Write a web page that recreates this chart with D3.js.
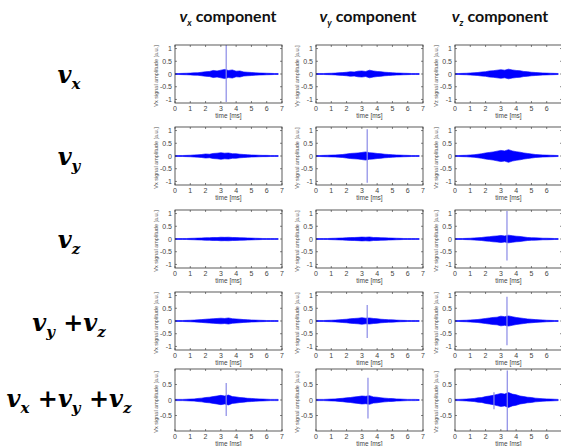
<!DOCTYPE html>
<html>
<head>
<meta charset="utf-8">
<script src="https://cdn.jsdelivr.net/npm/d3@7"></script>
<style>
  body { margin: 0; background: #fff; }
  svg { display: block; }
</style>
</head>
<body>
<div id="chart"></div>
<script>
// sample times (ms) of the envelope readings
const times = [0, 0.25, 0.5, 0.75, 1, 1.25, 1.5, 1.75, 2, 2.25, 2.5, 2.75, 3, 3.25, 3.5,
  3.75, 4, 4.25, 4.5, 4.75, 5, 5.25, 5.5, 5.75, 6, 6.25, 6.5, 6.75];

// envelope (half height) of the noisy signal, row by row
const envVxVx = [0.02, 0.02, 0.025, 0.03, 0.035, 0.045, 0.05, 0.07, 0.09, 0.1, 0.14, 0.12, 0.15, 0.18, 0.14, 0.16, 0.11, 0.12, 0.08, 0.07, 0.06, 0.045, 0.04, 0.035, 0.03, 0.025, 0.02, 0.02];
const envVxVy = [0.02, 0.02, 0.02, 0.025, 0.03, 0.035, 0.05, 0.055, 0.07, 0.09, 0.08, 0.11, 0.12, 0.1, 0.15, 0.12, 0.1, 0.09, 0.07, 0.06, 0.05, 0.04, 0.035, 0.03, 0.025, 0.02, 0.02, 0.02];
const envVxVz = [0.02, 0.02, 0.025, 0.03, 0.04, 0.05, 0.06, 0.08, 0.09, 0.12, 0.13, 0.15, 0.17, 0.15, 0.19, 0.16, 0.14, 0.13, 0.1, 0.09, 0.07, 0.06, 0.05, 0.04, 0.035, 0.03, 0.025, 0.02];

const envVyVx = [0.02, 0.02, 0.02, 0.025, 0.03, 0.04, 0.045, 0.06, 0.08, 0.07, 0.1, 0.11, 0.13, 0.11, 0.12, 0.09, 0.09, 0.07, 0.06, 0.05, 0.04, 0.035, 0.03, 0.025, 0.025, 0.02, 0.02, 0.02];
const envVyVy = [0.02, 0.02, 0.025, 0.03, 0.035, 0.04, 0.05, 0.06, 0.08, 0.1, 0.11, 0.12, 0.14, 0.16, 0.13, 0.12, 0.1, 0.09, 0.07, 0.06, 0.05, 0.04, 0.035, 0.03, 0.025, 0.02, 0.02, 0.02];
const envVyVz = [0.02, 0.02, 0.025, 0.03, 0.04, 0.05, 0.07, 0.09, 0.12, 0.14, 0.16, 0.19, 0.22, 0.2, 0.25, 0.2, 0.17, 0.15, 0.12, 0.1, 0.08, 0.06, 0.05, 0.04, 0.035, 0.03, 0.025, 0.02];

const envVzVx = [0.015, 0.015, 0.02, 0.02, 0.025, 0.03, 0.035, 0.04, 0.05, 0.05, 0.06, 0.055, 0.07, 0.065, 0.07, 0.06, 0.055, 0.05, 0.045, 0.04, 0.035, 0.03, 0.025, 0.02, 0.02, 0.02, 0.015, 0.015];
const envVzVy = [0.015, 0.015, 0.02, 0.02, 0.025, 0.03, 0.035, 0.04, 0.05, 0.055, 0.06, 0.065, 0.075, 0.07, 0.08, 0.06, 0.06, 0.05, 0.045, 0.04, 0.035, 0.03, 0.025, 0.02, 0.02, 0.02, 0.015, 0.015];
const envVzVz = [0.02, 0.02, 0.02, 0.025, 0.03, 0.04, 0.05, 0.06, 0.08, 0.09, 0.11, 0.12, 0.14, 0.12, 0.15, 0.13, 0.11, 0.1, 0.08, 0.06, 0.05, 0.045, 0.04, 0.03, 0.03, 0.025, 0.02, 0.02];

const envVyzVx = [0.02, 0.02, 0.02, 0.025, 0.03, 0.035, 0.045, 0.055, 0.07, 0.08, 0.09, 0.1, 0.11, 0.1, 0.12, 0.09, 0.08, 0.07, 0.055, 0.05, 0.04, 0.035, 0.03, 0.025, 0.02, 0.02, 0.02, 0.015];
const envVyzVy = [0.02, 0.02, 0.02, 0.025, 0.03, 0.035, 0.045, 0.06, 0.07, 0.09, 0.1, 0.11, 0.13, 0.11, 0.12, 0.1, 0.09, 0.07, 0.06, 0.05, 0.045, 0.035, 0.03, 0.025, 0.02, 0.02, 0.02, 0.015];
const envVyzVz = [0.02, 0.02, 0.025, 0.03, 0.04, 0.05, 0.06, 0.08, 0.1, 0.12, 0.14, 0.15, 0.19, 0.17, 0.2, 0.17, 0.14, 0.12, 0.1, 0.08, 0.07, 0.055, 0.045, 0.04, 0.03, 0.025, 0.02, 0.02];

const envVxyzVx = [0.02, 0.02, 0.02, 0.025, 0.03, 0.035, 0.05, 0.06, 0.08, 0.09, 0.11, 0.13, 0.15, 0.13, 0.16, 0.11, 0.1, 0.08, 0.07, 0.055, 0.05, 0.04, 0.035, 0.03, 0.025, 0.02, 0.02, 0.02];
const envVxyzVy = [0.02, 0.02, 0.02, 0.025, 0.03, 0.035, 0.045, 0.055, 0.07, 0.08, 0.1, 0.11, 0.13, 0.12, 0.14, 0.1, 0.09, 0.07, 0.06, 0.05, 0.045, 0.035, 0.03, 0.025, 0.02, 0.02, 0.02, 0.015];
const envVxyzVz = [0.02, 0.02, 0.025, 0.03, 0.04, 0.05, 0.07, 0.08, 0.11, 0.13, 0.15, 0.18, 0.21, 0.19, 0.24, 0.19, 0.17, 0.13, 0.11, 0.09, 0.08, 0.06, 0.05, 0.04, 0.035, 0.03, 0.025, 0.02];

const envelopes = [
  [envVxVx, envVxVy, envVxVz],
  [envVyVx, envVyVy, envVyVz],
  [envVzVx, envVzVy, envVzVz],
  [envVyzVx, envVyzVy, envVyzVz],
  [envVxyzVx, envVxyzVy, envVxyzVz]
];

// single tall pulses: [row, col, time ms, top, bottom]
const spikes = [
  [0, 0, 3.35, 1.14, -1.1],
  [1, 1, 3.35, 1.05, -1.05],
  [2, 2, 3.4, 1.1, -0.85],
  [3, 1, 3.35, 0.63, -0.67],
  [3, 2, 3.4, 0.95, -0.95],
  [4, 0, 3.35, 0.55, -0.52],
  [4, 1, 3.4, 0.72, -0.6],
  [4, 2, 3.42, 0.95, -1.0],
  [4, 2, 2.55, 0.25, -0.3]
];

const xTicks = [0, 1, 2, 3, 4, 5, 6, 7];
const yTicksFull = [-1, -0.5, 0, 0.5, 1];
const yTicksLast = [-0.5, 0, 0.5];
const columnNames = ["x", "y", "z"];
const rowLabels = [
  [["v", "x"]],
  [["v", "y"]],
  [["v", "z"]],
  [["v", "y"], ["v", "z"]],
  [["v", "x"], ["v", "y"], ["v", "z"]]
];

// layout
const W = 561, H = 446;
const colLeft = [175, 316, 455];
const plotW = 107;
const rowBox = [[45, 103], [127, 185], [210, 268], [292, 350], [369, 431]];
const rowYlim = [1.14, 1.14, 1.14, 1.14, 1.0];
const rowBaseline = [83, 165, 248, 331, 407];
const headerX = [228, 368, 500];

const svg = d3.select("#chart").append("svg")
  .attr("width", W).attr("height", H);

svg.append("rect").attr("width", W).attr("height", H).attr("fill", "#fff");

// column headers
headerX.forEach((cx, i) => {
  const t = svg.append("text")
    .attr("x", cx).attr("y", 22)
    .attr("text-anchor", "middle")
    .attr("font-family", "Lato, 'Open Sans', sans-serif")
    .attr("font-weight", "bold")
    .attr("font-size", 16)
    .attr("fill", "#111");
  t.append("tspan").attr("font-style", "italic").text("v");
  t.append("tspan").attr("font-style", "italic").attr("font-size", 9).attr("dy", 4).text(columnNames[i]);
  t.append("tspan").attr("dy", -4).text(" component");
});

// row labels
rowLabels.forEach((terms, r) => {
  const t = svg.append("text")
    .attr("x", 69).attr("y", rowBaseline[r])
    .attr("text-anchor", "middle")
    .attr("font-family", "'DejaVu Serif', serif")
    .attr("font-weight", "bold")
    .attr("font-style", "italic")
    .attr("font-size", 24)
    .attr("fill", "#000");
  terms.forEach((term, k) => {
    if (k > 0) t.append("tspan").attr("dy", -6).attr("font-style", "normal").text(" +");
    t.append("tspan").text(term[0]);
    t.append("tspan").attr("font-size", 15).attr("dy", 6).text(term[1]);
  });
});

const x = d3.scaleLinear().domain([0, 7]);

rowBox.forEach(([top, bottom], r) => {
  const lim = rowYlim[r];
  const y = d3.scaleLinear().domain([-lim, lim]).range([bottom, top]);
  const yTicks = r === 4 ? yTicksLast : yTicksFull;

  colLeft.forEach((left, c) => {
    x.range([left, left + plotW]);
    const g = svg.append("g");
    const clipId = `clip-${r}-${c}`;
    svg.append("clipPath").attr("id", clipId)
      .append("rect").attr("x", left).attr("y", top)
      .attr("width", plotW).attr("height", bottom - top);

    // signal envelope
    const env = envelopes[r][c];
    const area = d3.area()
      .x((d, i) => x(times[i]))
      .y0(d => y(-d))
      .y1(d => y(d));
    g.append("path")
      .datum(env)
      .attr("d", area)
      .attr("fill", "#0000ff")
      .attr("stroke", "#0000ff")
      .attr("stroke-width", 0.6)
      .attr("clip-path", `url(#${clipId})`);

    // pulses
    spikes.filter(s => s[0] === r && s[1] === c).forEach(s => {
      g.append("line")
        .attr("x1", x(s[2])).attr("x2", x(s[2]))
        .attr("y1", y(s[3])).attr("y2", y(s[4]))
        .attr("stroke", "#8a8ae6")
        .attr("stroke-width", 1.2)
        .attr("clip-path", `url(#${clipId})`);
    });

    // box
    g.append("rect")
      .attr("x", left).attr("y", top)
      .attr("width", plotW).attr("height", bottom - top)
      .attr("fill", "none").attr("stroke", "#333").attr("stroke-width", 0.8);

    // x ticks (bottom and top, inward); labels past the page edge are left out
    xTicks.forEach(v => {
      g.append("line").attr("x1", x(v)).attr("x2", x(v))
        .attr("y1", bottom).attr("y2", bottom - 2).attr("stroke", "#333").attr("stroke-width", 0.6);
      g.append("line").attr("x1", x(v)).attr("x2", x(v))
        .attr("y1", top).attr("y2", top + 2).attr("stroke", "#333").attr("stroke-width", 0.6);
      if (x(v) + 3 < W) {
        g.append("text").attr("x", x(v)).attr("y", bottom + 8)
          .attr("text-anchor", "middle")
          .attr("font-family", "'Liberation Sans', Arial, sans-serif")
          .attr("font-size", 7).attr("fill", "#444").text(v);
      }
    });

    // y ticks (left and right, inward)
    yTicks.forEach(v => {
      g.append("line").attr("x1", left).attr("x2", left + 2)
        .attr("y1", y(v)).attr("y2", y(v)).attr("stroke", "#333").attr("stroke-width", 0.6);
      g.append("line").attr("x1", left + plotW).attr("x2", left + plotW - 2)
        .attr("y1", y(v)).attr("y2", y(v)).attr("stroke", "#333").attr("stroke-width", 0.6);
      g.append("text").attr("x", left - 3).attr("y", y(v) + 2.5)
        .attr("text-anchor", "end")
        .attr("font-family", "'Liberation Sans', Arial, sans-serif")
        .attr("font-size", 7).attr("fill", "#444").text(v);
    });

    // axis labels
    g.append("text")
      .attr("x", left + plotW / 2).attr("y", bottom + 15)
      .attr("text-anchor", "middle")
      .attr("font-family", "'Liberation Sans', Arial, sans-serif")
      .attr("font-size", 6.5).attr("fill", "#444").text("time [ms]");
    const ly = (top + bottom) / 2 + 2;
    g.append("text")
      .attr("transform", `translate(${left - 17},${ly}) rotate(-90)`)
      .attr("text-anchor", "middle")
      .attr("font-family", "'Liberation Sans', Arial, sans-serif")
      .attr("font-size", 5.5).attr("fill", "#555")
      .text(`V${columnNames[c]} signal amplitude [a.u.]`);
  });
});
</script>
</body>
</html>
